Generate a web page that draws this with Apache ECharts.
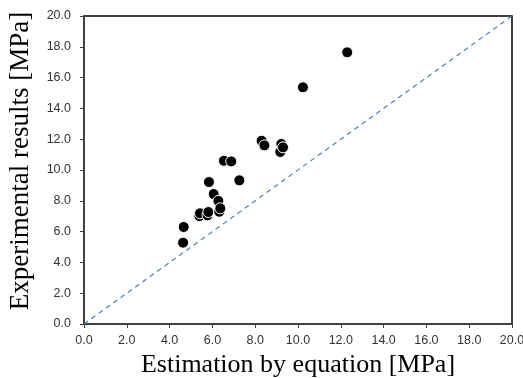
<!DOCTYPE html>
<html><head><meta charset="utf-8">
<script src="https://cdn.jsdelivr.net/npm/echarts@6/dist/echarts.min.js"></script>
<style>html,body{margin:0;padding:0;background:#fff}#c{width:523px;height:378px}</style>
</head><body><div id="c"></div>
<script>
const estimation = [4.63,4.66,5.39,5.42,5.77,5.81,5.84,6.06,6.28,6.32,6.37,6.54,6.88,7.26,8.30,8.43,9.17,9.22,9.30,10.23,12.30];
const experimental = [5.28,6.30,7.01,7.19,7.06,7.27,9.22,8.44,7.99,7.29,7.51,10.60,10.56,9.33,11.90,11.60,11.17,11.69,11.47,15.37,17.64];
const lineX = [0, 20];
const lineY = [0, 20];
const xTitle = 'Estimation by equation [MPa]';
const yTitle = 'Experimental results [MPa]';

const chart = echarts.init(document.getElementById('c'));
const axisCommon = {
  min: 0, max: 20, interval: 2,
  axisLine: {show: true, lineStyle: {color: '#404040', width: 2}},
  axisTick: {show: true, inside: false, length: 4, lineStyle: {color: '#404040'}},
  splitLine: {show: false},
  axisLabel: {color: '#333', fontFamily: 'Liberation Sans', fontSize: 12.5, formatter: v => v.toFixed(1)},
  nameLocation: 'middle',
  nameTextStyle: {fontFamily: 'Liberation Serif', color: '#000'}
};
chart.setOption({
  animation: false,
  grid: {left: 84, right: 11, top: 16, bottom: 54, show: true, borderColor: '#000', borderWidth: 1.5,
         backgroundColor: 'transparent', containLabel: false, outerBoundsMode: 'none'},
  xAxis: Object.assign({}, axisCommon, {type: 'value', name: xTitle, nameGap: 28,
    nameTextStyle: Object.assign({}, axisCommon.nameTextStyle, {fontSize: 26}),
    axisLabel: Object.assign({}, axisCommon.axisLabel, {margin: 10})}),
  yAxis: Object.assign({}, axisCommon, {type: 'value', name: yTitle, nameGap: 50,
    nameTextStyle: Object.assign({}, axisCommon.nameTextStyle, {fontSize: 27, padding: [0, 0, 0, 18]}),
    axisLabel: Object.assign({}, axisCommon.axisLabel, {margin: 13})}),
  series: [
    {type: 'line', data: lineX.map((x, i) => [x, lineY[i]]), symbol: 'none',
     lineStyle: {color: '#4f81bd', width: 1.2, type: [5, 4]}, z: 1},
    {type: 'scatter', data: estimation.map((x, i) => [x, experimental[i]]), symbol: 'circle', symbolSize: 11,
     itemStyle: {color: '#000', opacity: 1, borderColor: '#fff', borderWidth: 1}, z: 3}
  ]
});
</script></body></html>
